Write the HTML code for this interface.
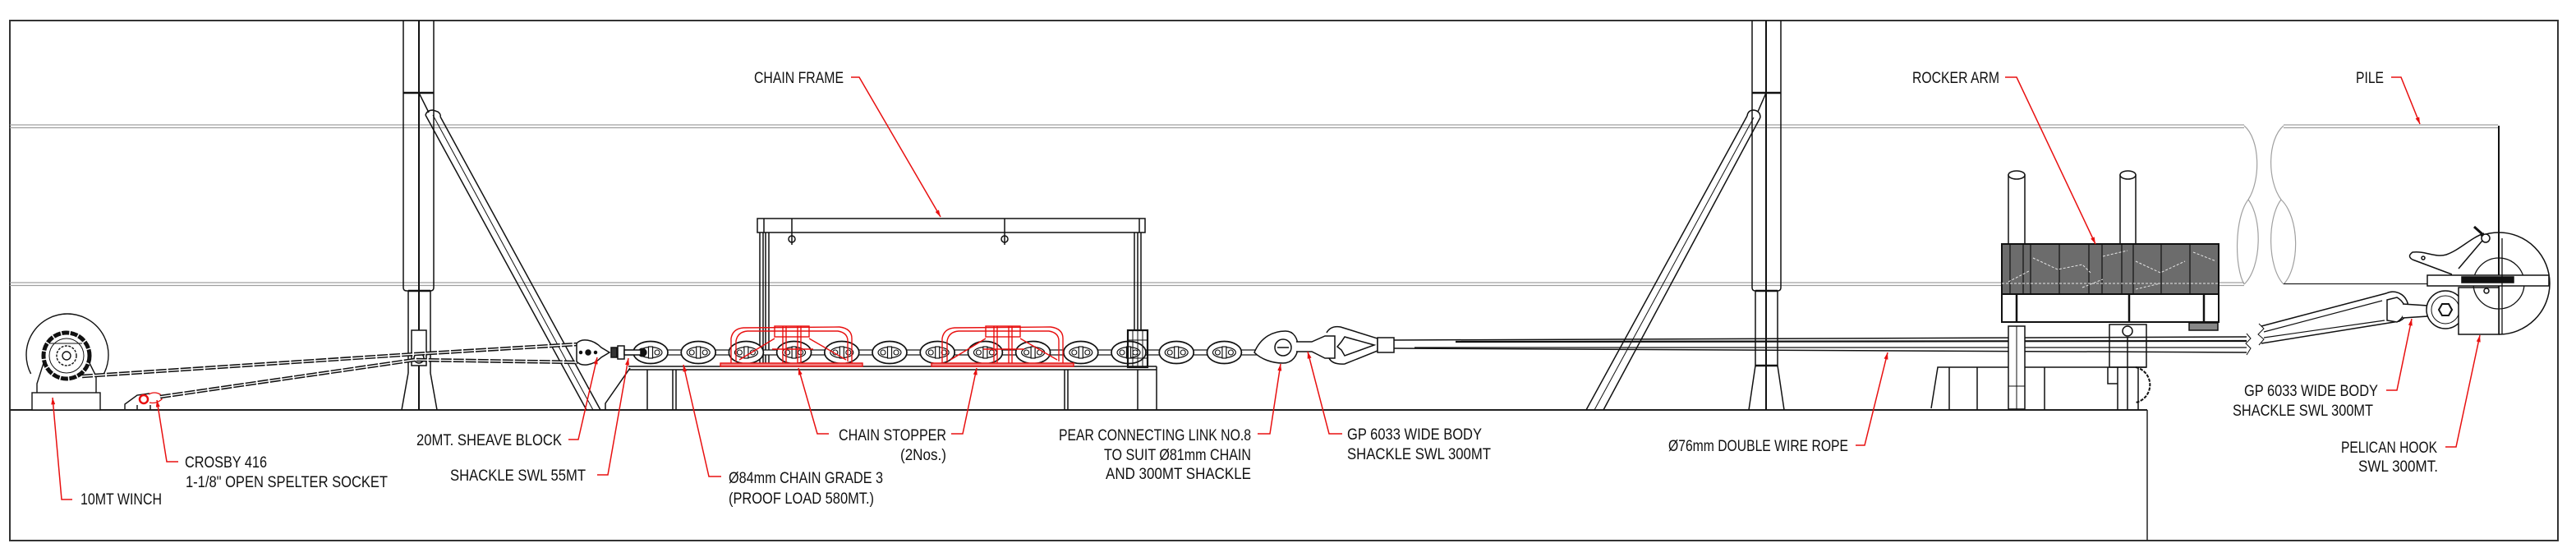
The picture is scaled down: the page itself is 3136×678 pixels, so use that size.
<!DOCTYPE html>
<html><head><meta charset="utf-8"><style>
html,body{margin:0;padding:0;background:#fff;}
svg{display:block;}
text{font-family:"Liberation Sans",sans-serif;font-size:19px;fill:#111;}
</style></head><body>
<svg width="3136" height="678" viewBox="0 0 3136 678" xmlns="http://www.w3.org/2000/svg">
<defs>
<g id="lk">
<ellipse rx="21" ry="13.5" fill="#fff" stroke="#111" stroke-width="1.7"/>
<ellipse rx="14" ry="6.5" fill="none" stroke="#111" stroke-width="1.2"/>
<circle cx="-8" cy="0" r="3" fill="none" stroke="#111" stroke-width="1.1"/>
<circle cx="8" cy="0" r="3" fill="none" stroke="#111" stroke-width="1.1"/>
<rect x="-2.5" y="-7" width="5" height="14" fill="#fff" stroke="#111" stroke-width="1.2"/>
</g>
<g id="stop" fill="none" stroke="#e81010" stroke-width="1.4">
<rect x="877" y="442" width="173" height="4" fill="#f08080"/>
<path d="M890,442 L890,412 Q892,400 905,399 L1022,398 Q1037,400 1037,412 L1037,442"/>
<path d="M896,440 L896,415 Q898,404 910,403 L1020,403 Q1032,405 1032,415 L1032,440"/>
<rect x="943" y="397" width="42" height="13"/>
<line x1="953" y1="397" x2="953" y2="442"/><line x1="957" y1="397" x2="957" y2="442"/>
<line x1="971" y1="397" x2="971" y2="442"/><line x1="975" y1="397" x2="975" y2="442"/>
<path d="M900,438 L943,412 M985,412 L1030,438 M940,425 L990,425"/>
</g>
<marker id="ar" viewBox="0 0 10 6" refX="10" refY="3" markerWidth="9" markerHeight="5" orient="auto" markerUnits="userSpaceOnUse">
<path d="M0,0 L10,3 L0,6 Z" fill="#e81010"/>
</marker>
</defs>

<!-- frame -->
<rect x="12" y="25" width="3102" height="633" fill="none" stroke="#333" stroke-width="2"/>

<!-- pile lines (left portion) -->
<g stroke="#a0a0a0" stroke-width="1.2" fill="none">
<line x1="12" y1="152" x2="2732" y2="152"/><line x1="12" y1="155.5" x2="2732" y2="155.5"/>
<line x1="12" y1="344" x2="2732" y2="344"/><line x1="12" y1="347.5" x2="2732" y2="347.5"/>
<line x1="2780" y1="152" x2="3041" y2="152"/><line x1="2780" y1="155.5" x2="3041" y2="155.5"/>
<path d="M2732,153 C2752,170 2752,220 2737,243 C2720,265 2720,325 2732,346"/>
<path d="M2737,243 C2754,265 2754,325 2732,346"/>
<path d="M2780,153 C2760,170 2760,220 2777,243 C2760,265 2760,325 2780,346"/>
<path d="M2777,243 C2800,265 2800,325 2780,346"/>
</g>
<line x1="2780" y1="345.5" x2="3103" y2="345.5" stroke="#222" stroke-width="1.3"/>
<line x1="3042" y1="153" x2="3042" y2="407" stroke="#111" stroke-width="2"/>

<!-- deck -->
<line x1="12" y1="499" x2="2614" y2="499" stroke="#222" stroke-width="2"/>
<line x1="2614" y1="499" x2="2614" y2="658" stroke="#222" stroke-width="1.5"/>

<!-- left column -->
<g stroke="#111" stroke-width="1.5" fill="none">
<path d="M491,25 L491,350 Q491,354 495,354 L524,354 Q528,354 528,350 L528,25"/>
<line x1="491" y1="113" x2="528" y2="113" stroke-width="2.5"/>
<line x1="497" y1="354" x2="524" y2="354" stroke-width="2.5"/>
<line x1="497" y1="354" x2="497" y2="454"/><line x1="524" y1="354" x2="524" y2="454"/>
<line x1="497" y1="454" x2="489" y2="499"/><line x1="524" y1="454" x2="532" y2="499"/>
<line x1="510" y1="25" x2="510" y2="499" stroke-width="2"/>
<rect x="501" y="402" width="18" height="43" fill="#fff"/>
<circle cx="510" cy="436" r="6" fill="#fff"/>
<line x1="510" y1="113" x2="522" y2="137"/>
<path d="M518,140 Q520,134 527,134 L533,136 Q537,139 536,142"/>
<line x1="518" y1="140" x2="714" y2="499"/>
<line x1="527" y1="140" x2="722" y2="499" stroke-width="1"/>
<line x1="536" y1="142" x2="731" y2="499"/>
</g>

<!-- right column -->
<g stroke="#111" stroke-width="1.5" fill="none">
<path d="M2133,25 L2133,350 Q2133,354 2137,354 L2164,354 Q2168,354 2168,350 L2168,25"/>
<line x1="2133" y1="113" x2="2168" y2="113" stroke-width="2.5"/>
<line x1="2137" y1="354" x2="2164" y2="354" stroke-width="2.5"/>
<line x1="2137" y1="354" x2="2137" y2="445"/><line x1="2164" y1="354" x2="2164" y2="445"/>
<line x1="2137" y1="445" x2="2164" y2="445" stroke-width="2.5"/>
<line x1="2137" y1="445" x2="2129" y2="499"/><line x1="2164" y1="445" x2="2172" y2="499"/>
<line x1="2150" y1="25" x2="2150" y2="499" stroke-width="2"/>
<line x1="2150" y1="113" x2="2140" y2="136"/>
<path d="M2127,141 Q2128,134 2135,134 Q2143,135 2143,143"/>
<line x1="2127" y1="141" x2="1931" y2="499"/>
<line x1="2135" y1="143" x2="1941" y2="499" stroke-width="1"/>
<line x1="2143" y1="143" x2="1952" y2="499"/>
</g>

<!-- winch -->
<g stroke="#111" stroke-width="1.4" fill="none">
<path d="M37.6,455 A50,50 0 1 1 126.4,455"/>
<path d="M45,478 L45,467 L53,442"/><path d="M117,478 L117,458 L109,442"/>
<rect x="39" y="478" width="83" height="21" fill="#fff"/>
<circle cx="81" cy="433" r="28" stroke-width="5" stroke-dasharray="9 1.5"/>
<circle cx="81" cy="433" r="21" stroke-width="1"/>
<circle cx="81" cy="433" r="12" stroke-dasharray="3 1.5"/>
<circle cx="81" cy="433" r="5"/>
<line x1="60" y1="418" x2="100" y2="418" stroke-width="1"/>
<path d="M152,498 L152,492 L167,481 L182,479 M167,493 L167,499 M183,493 L183,499"/>
</g>
<circle cx="175" cy="486" r="5" fill="none" stroke="#e81010" stroke-width="2.5"/>
<path d="M181,480 Q188,476 195,480 L197,486 Q190,492 182,490" fill="none" stroke="#e81010" stroke-width="1.3"/>

<!-- wire ropes -->
<g fill="none">
<polyline points="100,458 505,431 703,419" stroke="#111" stroke-width="4.5" stroke-dasharray="13 2"/>
<polyline points="100,458 505,431 703,419" stroke="#fff" stroke-width="1.4"/>
<polyline points="195,483 505,438 703,441" stroke="#111" stroke-width="4.5" stroke-dasharray="13 2"/>
<polyline points="195,483 505,438 703,441" stroke="#fff" stroke-width="1.4"/>
</g>

<!-- base platform under chain -->
<g stroke="#111" stroke-width="1.5" fill="none">
<line x1="765" y1="446" x2="1408" y2="446"/><line x1="765" y1="450" x2="1408" y2="450"/>
<path d="M767,448 L737,491 L737,499"/>
<line x1="788" y1="450" x2="788" y2="499"/><line x1="819" y1="450" x2="819" y2="499"/><line x1="823" y1="450" x2="823" y2="499"/>
<line x1="1296" y1="450" x2="1296" y2="499"/><line x1="1300" y1="450" x2="1300" y2="499"/>
<line x1="1385" y1="450" x2="1385" y2="499"/><line x1="1408" y1="446" x2="1408" y2="499"/>
</g>

<!-- chain frame -->
<g stroke="#111" stroke-width="1.5" fill="none">
<rect x="922" y="266" width="472" height="17" fill="#fff"/>
<line x1="930" y1="266" x2="930" y2="283"/><line x1="1387" y1="266" x2="1387" y2="283"/>
<line x1="964" y1="266" x2="964" y2="298"/><circle cx="964" cy="291" r="4"/>
<line x1="1223" y1="266" x2="1223" y2="298"/><circle cx="1223" cy="291" r="4"/>
<line x1="925" y1="283" x2="925" y2="446"/><line x1="929" y1="283" x2="929" y2="446"/>
<line x1="932" y1="283" x2="932" y2="446"/><line x1="936" y1="283" x2="936" y2="446"/>
<line x1="1381" y1="283" x2="1381" y2="402"/><line x1="1385" y1="283" x2="1385" y2="402"/><line x1="1389" y1="283" x2="1389" y2="402"/>
</g>

<!-- chain -->
<rect x="745" y="426" width="785" height="6" fill="#fff" stroke="#111" stroke-width="1.2"/>
<use href="#lk" x="792" y="429"/><use href="#lk" x="850.2" y="429"/><use href="#lk" x="908.4" y="429"/>
<use href="#lk" x="966.6" y="429"/><use href="#lk" x="1024.8" y="429"/><use href="#lk" x="1083" y="429"/>
<use href="#lk" x="1141.2" y="429"/><use href="#lk" x="1199.4" y="429"/><use href="#lk" x="1257.6" y="429"/>
<use href="#lk" x="1315.8" y="429"/><use href="#lk" x="1374" y="429"/><use href="#lk" x="1432.2" y="429"/>
<use href="#lk" x="1490.4" y="429"/>
<circle cx="782" cy="429" r="5.5" fill="#111"/>

<!-- chain stoppers -->
<use href="#stop"/>
<use href="#stop" x="257"/>

<!-- chain frame guide box -->
<g stroke="#111" fill="none">
<rect x="1373" y="402" width="24" height="45" stroke-width="2.2"/>
<line x1="1379" y1="402" x2="1379" y2="447" stroke-width="1"/><line x1="1385" y1="402" x2="1385" y2="447" stroke-width="1"/>
<line x1="1391" y1="402" x2="1391" y2="447" stroke-width="1"/>
<line x1="1373" y1="414" x2="1397" y2="414" stroke-width="1"/><line x1="1373" y1="436" x2="1397" y2="436" stroke-width="1"/>
</g>

<!-- sheave block & shackle 55MT -->
<g stroke="#111" stroke-width="1.5" fill="#fff">
<path d="M702,418 C708,411 722,413 732,423 L742,429 L732,435 C722,445 708,447 702,440 Z"/>
<circle cx="716" cy="429" r="3" fill="#111"/>
<circle cx="707" cy="429" r="1.5" fill="#111"/><circle cx="725" cy="429" r="1.5" fill="#111"/>
<rect x="744" y="423" width="7" height="12" fill="#333"/>
<rect x="752" y="421" width="8" height="16" fill="#fff"/>
<rect x="760" y="426" width="20" height="6"/>
</g>

<!-- pear link & GP shackle & thimble -->
<g stroke="#111" stroke-width="1.5" fill="#fff">
<path d="M1527,429 C1535,410 1550,403 1565,403 C1575,403 1580,412 1580,422 C1580,433 1573,442 1562,442 C1548,442 1535,437 1527,429 Z"/>
<circle cx="1562" cy="423" r="10"/>
<line x1="1555" y1="423" x2="1569" y2="423"/>
<path d="M1578,416 L1597,416 L1613,409 L1625,409 L1625,436 L1613,436 L1597,428 L1578,428" />
<path d="M1615,405 Q1620,396 1632,398 L1677,412 L1677,427 L1637,443 Q1622,444 1618,436" fill="none"/>
<path d="M1637,410 L1673,420 L1637,433 L1633,426 L1628,422 L1633,416 Z"/>
<rect x="1677" y="411" width="20" height="18"/>
</g>
<!-- main wire rope -->
<g stroke="#111" fill="none">
<line x1="1697" y1="414" x2="2735" y2="410" stroke-width="1.5"/>
<line x1="1697" y1="424" x2="2735" y2="429" stroke-width="1.5"/>
<line x1="1772" y1="416" x2="2735" y2="415" stroke-width="2.2"/>
<line x1="1722" y1="423" x2="2735" y2="423" stroke-width="1.2"/>
<path d="M2735,406 L2740,412 L2734,418 L2740,424 L2735,432" stroke-width="1"/>
</g>

<!-- rocker arm -->
<g stroke="#111" stroke-width="1.5" fill="#fff">
<path d="M2351,497 L2359,447 L2613,447"/>
<line x1="2373" y1="447" x2="2373" y2="499"/><line x1="2407" y1="447" x2="2407" y2="499"/>
<line x1="2489" y1="447" x2="2489" y2="499"/>
<line x1="2578" y1="447" x2="2578" y2="499"/><line x1="2590" y1="447" x2="2590" y2="499"/><line x1="2603" y1="447" x2="2603" y2="499"/>
<path d="M2600,447 A22,22 0 0 1 2600,490" fill="none" stroke-dasharray="4 1.5" stroke-width="2"/>
<path d="M2566,447 L2566,467 L2578,467" fill="none"/>
<rect x="2445" y="397" width="20" height="101"/>
<line x1="2455" y1="397" x2="2455" y2="498" stroke-width="1"/>
<line x1="2445" y1="470" x2="2465" y2="470" stroke-width="1"/>
<rect x="2568" y="395" width="45" height="52" fill="none"/>
<line x1="2590" y1="410" x2="2590" y2="447"/>
<circle cx="2590" cy="403" r="6"/>
<rect x="2445" y="213" width="20" height="84"/>
<ellipse cx="2455" cy="213" rx="10" ry="5"/>
<rect x="2581" y="213" width="19" height="84"/>
<ellipse cx="2590.5" cy="213" rx="9.5" ry="5"/>
<rect x="2437" y="297" width="264" height="61" fill="#6c6c6c" stroke-width="2"/>
<rect x="2437" y="358" width="264" height="34" stroke-width="2"/>
<line x1="2455" y1="358" x2="2455" y2="392" stroke-width="2.5"/>
<line x1="2592" y1="358" x2="2592" y2="392" stroke-width="2.5"/>
<line x1="2683" y1="358" x2="2683" y2="392" stroke-width="2.5"/>
<rect x="2665" y="393" width="35" height="9" fill="#888"/>
</g>
<g stroke="#111" stroke-width="1.2" fill="none">
<line x1="2447" y1="297" x2="2447" y2="358"/><line x1="2463" y1="297" x2="2463" y2="358"/>
<line x1="2472" y1="297" x2="2472" y2="358"/><line x1="2507" y1="297" x2="2507" y2="358"/>
<line x1="2543" y1="297" x2="2543" y2="358"/><line x1="2559" y1="297" x2="2559" y2="358"/>
<line x1="2583" y1="297" x2="2583" y2="358"/><line x1="2597" y1="297" x2="2597" y2="358"/>
<line x1="2631" y1="297" x2="2631" y2="358"/><line x1="2666" y1="297" x2="2666" y2="358"/>
</g>
<g stroke="#e6e6e6" stroke-width="1" fill="none" stroke-dasharray="3 2">
<path d="M2475,314 L2505,328 L2535,322 L2545,332"/>
<path d="M2560,312 L2590,305 M2600,318 L2630,332 L2660,318"/>
<path d="M2670,307 L2698,318 M2445,343 L2470,330 M2535,350 L2560,340 M2600,352 L2630,345"/>
<line x1="2437" y1="345" x2="2701" y2="345"/>
</g>

<!-- pelican hook assembly -->
<g stroke="#111" stroke-width="1.5" fill="#fff">
<path d="M2753,397 L2905,357 A18,18 0 0 1 2921,391 L2753,418" fill="none"/>
<line x1="2756" y1="404" x2="2900" y2="366" stroke-width="1.2"/>
<line x1="2756" y1="411" x2="2903" y2="390" stroke-width="1.2"/>
<path d="M2750,394 L2756,400 L2749,407 L2756,413 L2750,420" fill="none" stroke-width="1"/>
<path d="M2906,365 L2918,362 Q2928,368 2927,376 Q2928,386 2918,392 L2906,390 Z"/>
<path d="M2925,370 L2955,372 L2955,385 L2925,387"/>
<circle cx="2977" cy="377" r="23"/>
<circle cx="2977" cy="377" r="17" fill="none" stroke-width="1"/>
<polygon points="2985,377 2981,384 2973,384 2969,377 2973,370 2981,370" stroke-width="2"/>
<rect x="2993" y="350" width="49" height="57"/>
<path d="M3042,283 A62,62 0 0 1 3042,407" fill="none"/>
<path d="M3042,283 A62,62 0 0 0 3020,287" fill="none"/>
<circle cx="3042" cy="345" r="31" fill="none" stroke-width="1.3"/>
<circle cx="3027" cy="354" r="3"/>
<rect x="2955" y="335" width="148" height="13"/>
<rect x="2997" y="337" width="63" height="7" fill="#111"/>
<line x1="3046" y1="290" x2="3046" y2="407" stroke-width="1.3"/>
<path d="M2937,316 Q2930,312 2937,307 C2952,305 2965,314 2978,310 C2995,304 3007,290 3024,284" fill="none"/>
<line x1="2937" y1="316" x2="2985" y2="334"/>
<line x1="2993" y1="327" x2="3027" y2="287"/>
<circle cx="2950" cy="314" r="2"/>
<circle cx="3026" cy="290" r="5"/>
<line x1="3012" y1="276" x2="3022" y2="285" stroke-width="3"/>
</g>

<!-- leaders -->
<g stroke="#e81010" stroke-width="1.5" fill="none">
<polyline points="1036,94 1046,94 1145,264" marker-end="url(#ar)"/>
<polyline points="2441,94 2455,94 2551,297" marker-end="url(#ar)"/>
<polyline points="2911,94 2923,94 2946,151" marker-end="url(#ar)"/>
<polyline points="88,608 75,608 64,484" marker-end="url(#ar)"/>
<polyline points="217,562 203,562 191,487" marker-end="url(#ar)"/>
<polyline points="692,535 704,535 727,435" marker-end="url(#ar)"/>
<polyline points="727,578 740,578 765,436" marker-end="url(#ar)"/>
<polyline points="878,580 863,580 832,444" marker-end="url(#ar)"/>
<polyline points="1009,528 995,528 972,448" marker-end="url(#ar)"/>
<polyline points="1158,528 1172,528 1189,448" marker-end="url(#ar)"/>
<polyline points="1531,528 1546,528 1559,443" marker-end="url(#ar)"/>
<polyline points="1634,528 1618,528 1592,428" marker-end="url(#ar)"/>
<polyline points="2259,542 2270,542 2298,429" marker-end="url(#ar)"/>
<polyline points="2905,475 2918,475 2936,388" marker-end="url(#ar)"/>
<polyline points="2977,544 2990,544 3019,408" marker-end="url(#ar)"/>
</g>

<!-- labels -->
<text x="918" y="101" textLength="109" lengthAdjust="spacingAndGlyphs">CHAIN FRAME</text>
<text x="2328" y="101" textLength="106" lengthAdjust="spacingAndGlyphs">ROCKER ARM</text>
<text x="2868" y="101" textLength="34" lengthAdjust="spacingAndGlyphs">PILE</text>
<text x="98" y="614" textLength="99" lengthAdjust="spacingAndGlyphs">10MT  WINCH</text>
<text x="225" y="569" textLength="100" lengthAdjust="spacingAndGlyphs">CROSBY 416</text>
<text x="226" y="593" textLength="246" lengthAdjust="spacingAndGlyphs">1-1/8" OPEN SPELTER SOCKET</text>
<text x="507" y="542" textLength="177" lengthAdjust="spacingAndGlyphs">20MT. SHEAVE BLOCK</text>
<text x="548" y="585" textLength="165" lengthAdjust="spacingAndGlyphs">SHACKLE SWL 55MT</text>
<text x="887" y="588" textLength="188" lengthAdjust="spacingAndGlyphs">Ø84mm CHAIN GRADE 3</text>
<text x="887" y="613" textLength="177" lengthAdjust="spacingAndGlyphs">(PROOF LOAD 580MT.)</text>
<text x="1021" y="536" textLength="131" lengthAdjust="spacingAndGlyphs">CHAIN STOPPER</text>
<text x="1096" y="560" textLength="56" lengthAdjust="spacingAndGlyphs">(2Nos.)</text>
<text x="1289" y="536" textLength="234" lengthAdjust="spacingAndGlyphs">PEAR CONNECTING LINK NO.8</text>
<text x="1344" y="560" textLength="179" lengthAdjust="spacingAndGlyphs">TO SUIT Ø81mm CHAIN</text>
<text x="1346" y="583" textLength="177" lengthAdjust="spacingAndGlyphs">AND 300MT  SHACKLE</text>
<text x="1640" y="535" textLength="164" lengthAdjust="spacingAndGlyphs">GP 6033 WIDE BODY</text>
<text x="1640" y="559" textLength="175" lengthAdjust="spacingAndGlyphs">SHACKLE SWL 300MT</text>
<text x="2031" y="549" textLength="219" lengthAdjust="spacingAndGlyphs">Ø76mm DOUBLE WIRE ROPE</text>
<text x="2732" y="482" textLength="163" lengthAdjust="spacingAndGlyphs">GP 6033 WIDE BODY</text>
<text x="2718" y="506" textLength="171" lengthAdjust="spacingAndGlyphs">SHACKLE SWL 300MT</text>
<text x="2850" y="551" textLength="117" lengthAdjust="spacingAndGlyphs">PELICAN HOOK</text>
<text x="2871" y="574" textLength="97" lengthAdjust="spacingAndGlyphs">SWL 300MT.</text>
</svg>
</body></html>
